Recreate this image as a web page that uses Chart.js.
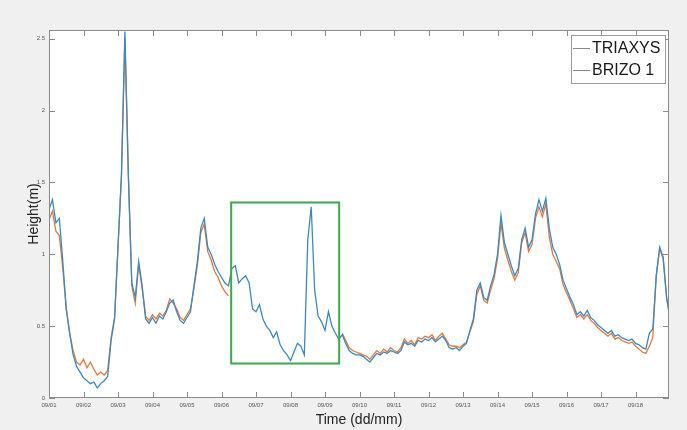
<!DOCTYPE html>
<html>
<head>
<meta charset="utf-8">
<script src="https://cdn.jsdelivr.net/npm/chart.js@4.4.1/dist/chart.umd.min.js"></script>
<style>
  html, body { margin: 0; padding: 0; background: #f0f0f0; }
  #wrap { width: 687px; height: 430px; }
</style>
</head>
<body>
<div id="wrap"><canvas id="waveChart" width="687" height="430"></canvas></div>
<script>
// dias de 09/01 a 09/18, uma amostra a cada 0.1 dia
const firstDay = 1;
const dayStep = 0.1;
const dayTicks = [1, 2, 3, 4, 5, 6, 7, 8, 9, 10, 11, 12, 13, 14, 15, 16, 17, 18];
const heightTicks = [0, 0.5, 1, 1.5, 2, 2.5];

const triaxys = [
  1.31, 1.38, 1.22, 1.25, 0.95, 0.62, 0.45, 0.30, 0.22, 0.18,
  0.14, 0.12, 0.10, 0.11, 0.07, 0.10, 0.12, 0.15, 0.40, 0.55,
  1.05, 1.55, 2.55, 1.55, 0.80, 0.70, 0.95, 0.78, 0.55, 0.52,
  0.56, 0.52, 0.57, 0.55, 0.60, 0.66, 0.68, 0.60, 0.54, 0.52,
  0.56, 0.60, 0.78, 0.95, 1.18, 1.25, 1.05, 1.00, 0.93, 0.88,
  0.84, 0.80, 0.78, 0.90, 0.92, 0.80, 0.83, 0.85, 0.80, 0.62,
  0.60, 0.65, 0.55, 0.50, 0.47, 0.42, 0.46, 0.37, 0.33, 0.30,
  0.26, 0.32, 0.38, 0.36, 0.30, 1.10, 1.33, 0.75, 0.57, 0.53,
  0.47, 0.60, 0.50, 0.45, 0.41, 0.44, 0.38, 0.33, 0.31, 0.30,
  0.30, 0.29, 0.27, 0.25, 0.28, 0.31, 0.30, 0.32, 0.31, 0.33,
  0.32, 0.31, 0.33, 0.39, 0.37, 0.38, 0.36, 0.40, 0.39, 0.41,
  0.40, 0.42, 0.39, 0.41, 0.43, 0.40, 0.35, 0.34, 0.35, 0.33,
  0.36, 0.38, 0.47, 0.55, 0.75, 0.80, 0.70, 0.68, 0.78, 0.86,
  1.00, 1.27, 1.08, 1.00, 0.92, 0.85, 0.90, 1.10, 1.18, 1.05,
  1.10, 1.28, 1.38, 1.30, 1.39, 1.18, 1.05, 1.00, 0.93, 0.82,
  0.76, 0.70, 0.65, 0.58, 0.60, 0.57, 0.61, 0.56, 0.54, 0.51,
  0.49, 0.47, 0.45, 0.47, 0.43, 0.44, 0.42, 0.41, 0.40, 0.41,
  0.38, 0.37, 0.35, 0.34, 0.45, 0.48, 0.85, 1.05, 0.98, 0.70,
  0.55
];

const brizo = [
  1.24, 1.30, 1.16, 1.13, 0.90, 0.62, 0.45, 0.33, 0.25, 0.23,
  0.27, 0.21, 0.25, 0.20, 0.16, 0.18, 0.16, 0.19, 0.42, 0.56,
  1.05, 1.55, 2.50, 1.55, 0.78, 0.66, 0.93, 0.76, 0.57, 0.54,
  0.58, 0.55, 0.59, 0.57, 0.61, 0.69, 0.66, 0.62, 0.56, 0.54,
  0.58, 0.62, 0.76, 0.92, 1.15, 1.21, 1.02, 0.96, 0.88, 0.84,
  0.78, 0.74, 0.71, null, null, null, null, null, null, null,
  null, null, null, null, null, null, null, null, null, null,
  null, null, null, null, null, null, null, null, null, null,
  null, null, null, null, null, 0.45, 0.40, 0.35, 0.33, 0.32,
  0.31, 0.30, 0.29, 0.27, 0.30, 0.33, 0.31, 0.34, 0.32, 0.35,
  0.33, 0.32, 0.35, 0.41, 0.38, 0.40, 0.37, 0.42, 0.41, 0.43,
  0.42, 0.44, 0.40, 0.43, 0.45, 0.41, 0.37, 0.36, 0.36, 0.35,
  0.37, 0.39, 0.46, 0.53, 0.72, 0.78, 0.68, 0.66, 0.75, 0.83,
  0.97, 1.22, 1.04, 0.96, 0.88, 0.82, 0.87, 1.08, 1.15, 1.02,
  1.07, 1.25, 1.33, 1.26, 1.35, 1.12, 1.00, 0.95, 0.90, 0.79,
  0.73, 0.68, 0.62, 0.56, 0.58, 0.55, 0.58, 0.54, 0.52, 0.49,
  0.47, 0.45, 0.43, 0.45, 0.41, 0.42, 0.40, 0.39, 0.38, 0.39,
  0.36, 0.34, 0.32, 0.31, 0.36, 0.42, 0.85, 1.04, 0.97, 0.70,
  0.55
];

// caixa verde: [dia inicial, dia final, altura min, altura max]
const highlightBox = [6.28, 9.41, 0.24, 1.36];

const sampleDays = triaxys.map((_, i) => firstDay + i * dayStep);

function toPoints(values) {
  return values.map((v, i) => ({ x: sampleDays[i], y: v }));
}

const FONT = "'Liberation Sans', Arial, sans-serif";

// fundo branco da area do grafico
const plotBackground = {
  id: 'plotBackground',
  beforeDraw(chart) {
    const { ctx, chartArea: a } = chart;
    ctx.save();
    ctx.fillStyle = '#ffffff';
    ctx.fillRect(a.left, a.top, a.right - a.left, a.bottom - a.top);
    ctx.restore();
  }
};

// caixa verde de destaque
const highlightPlugin = {
  id: 'highlightPlugin',
  afterDatasetsDraw(chart) {
    const { ctx, scales: { x, y } } = chart;
    const x0 = x.getPixelForValue(highlightBox[0]);
    const x1 = x.getPixelForValue(highlightBox[1]);
    const y0 = y.getPixelForValue(highlightBox[3]);
    const y1 = y.getPixelForValue(highlightBox[2]);
    ctx.save();
    ctx.strokeStyle = '#3aa84e';
    ctx.lineWidth = 2;
    ctx.strokeRect(x0, y0, x1 - x0, y1 - y0);
    ctx.restore();
  }
};

// moldura, ticks para dentro (estilo matlab) e legenda dentro do grafico
const boxAndLegend = {
  id: 'boxAndLegend',
  afterDraw(chart) {
    const { ctx, chartArea: a, scales: { x, y } } = chart;
    ctx.save();
    ctx.strokeStyle = '#8a8a8a';
    ctx.lineWidth = 1;
    ctx.strokeRect(a.left + 0.5, a.top + 0.5, a.right - a.left - 1, a.bottom - a.top - 1);

    ctx.beginPath();
    dayTicks.forEach(d => {
      const px = Math.round(x.getPixelForValue(d)) + 0.5;
      ctx.moveTo(px, a.bottom); ctx.lineTo(px, a.bottom - 6);
      ctx.moveTo(px, a.top); ctx.lineTo(px, a.top + 6);
    });
    heightTicks.forEach(h => {
      const py = Math.round(y.getPixelForValue(h)) + 0.5;
      ctx.moveTo(a.left, py); ctx.lineTo(a.left + 6, py);
      ctx.moveTo(a.right, py); ctx.lineTo(a.right - 6, py);
    });
    ctx.stroke();

    // legenda
    const w = 94, h = 48;
    const lx = a.right - w - 4, ly = a.top + 5;
    ctx.fillStyle = '#ffffff';
    ctx.fillRect(lx, ly, w, h);
    ctx.strokeStyle = '#9a9a9a';
    ctx.strokeRect(lx + 0.5, ly + 0.5, w, h);
    ctx.font = '16px ' + FONT;
    ctx.textBaseline = 'middle';
    ctx.textAlign = 'left';
    chart.data.datasets.forEach((ds, i) => {
      const rowY = ly + 13 + i * 22;
      ctx.strokeStyle = '#888888';
      ctx.beginPath();
      ctx.moveTo(lx + 2, rowY + 0.5);
      ctx.lineTo(lx + 19, rowY + 0.5);
      ctx.stroke();
      ctx.fillStyle = '#1a1a1a';
      ctx.fillText(ds.label, lx + 21, rowY + 1);
    });
    ctx.restore();
  }
};

const ctx = document.getElementById('waveChart').getContext('2d');
const waveChart = new Chart(ctx, {
  type: 'line',
  data: {
    datasets: [
      {
        label: 'TRIAXYS',
        data: toPoints(triaxys),
        borderColor: '#3f88bd',
        borderWidth: 1.3,
        pointRadius: 0,
        tension: 0
      },
      {
        label: 'BRIZO 1',
        data: toPoints(brizo),
        borderColor: '#dc7a40',
        borderWidth: 1.3,
        pointRadius: 0,
        tension: 0,
        spanGaps: false
      }
    ]
  },
  options: {
    responsive: false,
    animation: false,
    devicePixelRatio: 1,
    layout: { padding: { left: 26, top: 30, right: 18, bottom: 0 } },
    plugins: {
      legend: { display: false },
      tooltip: { enabled: false }
    },
    scales: {
      x: {
        type: 'linear',
        min: 1,
        max: 18.97,
        afterFit(scale) { scale.height = 32; },
        grid: { display: false, drawTicks: false },
        border: { display: false },
        ticks: {
          stepSize: 1,
          includeBounds: false,
          autoSkip: false,
          maxRotation: 0,
          padding: 4,
          color: '#555',
          font: { size: 6, family: FONT },
          callback: v => '09/' + String(v).padStart(2, '0')
        },
        title: {
          display: true,
          text: 'Time (dd/mm)',
          color: '#222',
          font: { size: 14, family: FONT },
          padding: { top: 0, bottom: 1 }
        }
      },
      y: {
        min: 0,
        max: 2.56,
        afterFit(scale) { scale.width = 23; },
        grid: { display: false, drawTicks: false },
        border: { display: false },
        ticks: {
          stepSize: 0.5,
          includeBounds: false,
          padding: 4,
          color: '#555',
          font: { size: 6, family: FONT },
          callback: v => String(Math.round(v * 10) / 10)
        },
        title: {
          display: true,
          text: 'Height(m)',
          color: '#222',
          font: { size: 14, family: FONT },
          padding: 0
        }
      }
    }
  },
  plugins: [plotBackground, highlightPlugin, boxAndLegend]
});
</script>
</body>
</html>
